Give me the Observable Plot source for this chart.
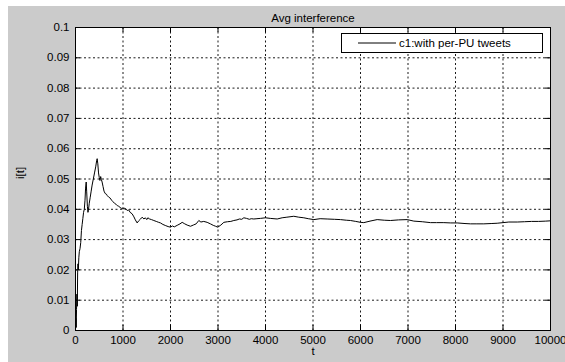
<!DOCTYPE html>
<html>
<head>
<meta charset="utf-8">
<script src="https://cdn.jsdelivr.net/npm/d3@7"></script>
<script src="https://cdn.jsdelivr.net/npm/@observablehq/plot@0.6"></script>
<style>
  html, body { margin: 0; padding: 0; background: #ffffff; }
  #wrap { position: relative; width: 565px; height: 362px; overflow: hidden; font-family: "Liberation Sans", Arial, sans-serif; }
  #bg { position: absolute; left: 8px; top: 6px; right: 0; bottom: 0; background: #cbcbcb; }
  #chart { position: absolute; left: 0; top: 0; }
  #legend { position: absolute; left: 341px; top: 33px; width: 200px; height: 18px; background: #fff; border: 1px solid #000;
            font-size: 11.5px; display: flex; align-items: center; }
  #legend svg { margin-left: 16px; margin-right: 3px; }
</style>
</head>
<body>
<div id="wrap"><div id="bg"></div><div id="chart"></div>
<div id="legend"><svg width="38" height="4"><line x1="0" x2="38" y1="2" y2="2" stroke="#000" stroke-width="1"/></svg><span>c1:with per-PU tweets</span></div>
</div>
<script>
const title = "Avg interference";
const xLabel = "t";
const yLabel = "i[t]";
const seriesName = "c1:with per-PU tweets";
const xTicks = [0, 1000, 2000, 3000, 4000, 5000, 6000, 7000, 8000, 9000, 10000];
const yTicks = [0, 0.01, 0.02, 0.03, 0.04, 0.05, 0.06, 0.07, 0.08, 0.09, 0.1];

const tValues = [0,8,15,22,30,38,45,52,60,70,80,95,110,125,140,155,170,185,200,212,225,235,250,262,270,290,310,330,350,375,400,425,445,456,470,485,500,515,530,545,560,580,600,625,650,670,700,730,760,790,820,850,880,910,940,970,1000,
 1040,1088,1120,1150,1193,1230,1260,1298,1330,1370,1404,1440,1470,1500,1523,1560,1600,1649,1700,1750,1789,1840,1900,1950,2000,2040,2080,2140,2200,2246,2300,2350,2421,2480,2540,2596,2640,2700,2772,2840,2900,2950,2996,3060,3123,3200,3270,3333,3400,3450,3500,3544,3600,3660,3700,3754,3820,3895,4000,
 4100,4246,4350,4450,4596,4700,4807,4900,5018,5150,5298,5450,5579,5700,5789,5900,6000,6070,6200,6351,6500,6632,6800,6982,7123,7300,7474,7600,7754,7900,8035,8200,8316,8450,8596,8750,8877,9000,9123,9300,9450,9600,9750,9900,10000];
const iValues = [0,0.004,0.001,0.007,0.012,0.008,0.019,0.022,0.020,0.024,0.026,0.027,0.029,0.033,0.035,0.037,0.039,0.040,0.043,0.047,0.049,0.046,0.041,0.039,0.0395,0.042,0.044,0.046,0.048,0.050,0.052,0.054,0.056,0.0567,0.055,0.052,0.0505,0.0495,0.0508,0.0498,0.049,0.0475,0.046,0.0452,0.045,0.0445,0.044,0.0437,0.043,0.0425,0.042,0.0417,0.0412,0.041,0.0406,0.0403,0.0401,
 0.0404,0.0396,0.0398,0.039,0.0385,0.0375,0.0365,0.0355,0.0362,0.0368,0.0374,0.0368,0.0372,0.0366,0.0372,0.0368,0.0366,0.0363,0.036,0.0357,0.0355,0.035,0.0346,0.0343,0.0341,0.0345,0.0342,0.0347,0.0352,0.0357,0.0352,0.0348,0.0344,0.0348,0.0352,0.0363,0.0358,0.036,0.0357,0.0352,0.0347,0.0344,0.0341,0.0348,0.0357,0.0359,0.036,0.0363,0.0365,0.0368,0.0367,0.0372,0.037,0.0367,0.0369,0.0368,0.0369,0.037,0.0372,
 0.037,0.0368,0.0372,0.0374,0.0377,0.0374,0.0372,0.0369,0.0366,0.0369,0.0368,0.0367,0.0366,0.0364,0.0363,0.036,0.0357,0.0356,0.0361,0.0366,0.0364,0.0363,0.0365,0.0366,0.0361,0.0359,0.0356,0.0356,0.0356,0.0355,0.0355,0.0353,0.0352,0.0352,0.0352,0.0353,0.0354,0.0356,0.0358,0.0358,0.0359,0.036,0.036,0.0361,0.0362];

const data = tValues.map((t, k) => ({t, i: iValues[k]}));
const fmtY = d => String(Number(d.toFixed(2)));
const fmtX = d => String(d);
const marginTop = 27, marginBottom = 32, marginLeft = 75, marginRight = 15;
const H = 362, W = 565;
const fh = H - marginTop - marginBottom, fw = W - marginLeft - marginRight;
const tick = 5;
const font = "Liberation Sans, Arial, sans-serif";

const plot = Plot.plot({
  width: W, height: H,
  marginTop, marginBottom, marginLeft, marginRight,
  style: {background: "transparent", fontFamily: font, fontSize: "11px", color: "#000", overflow: "visible"},
  x: {domain: [0, 10000], ticks: xTicks, label: null},
  y: {domain: [0, 0.1], ticks: yTicks, label: null},
  marks: [
    Plot.frame({fill: "white", stroke: null}),
    Plot.gridX(xTicks, {stroke: "#000", strokeOpacity: 0.9, strokeDasharray: "2,2.5"}),
    Plot.gridY(yTicks, {stroke: "#000", strokeOpacity: 0.9, strokeDasharray: "2,2.5"}),
    Plot.tickX(xTicks, {x: d => d, insetTop: fh - tick, stroke: "#000"}),
    Plot.tickX(xTicks, {x: d => d, insetBottom: fh - tick, stroke: "#000"}),
    Plot.tickY(yTicks, {y: d => d, insetRight: fw - tick, stroke: "#000"}),
    Plot.tickY(yTicks, {y: d => d, insetLeft: fw - tick, stroke: "#000"}),
    Plot.line(data, {x: "t", y: "i", stroke: "#000", strokeWidth: 1}),
    Plot.frame({stroke: "#000"}),
    Plot.axisX(xTicks, {tickSize: 0, tickPadding: 5, label: null, tickFormat: fmtX, fontSize: 11.5}),
    Plot.axisY(yTicks, {tickSize: 0, tickPadding: 6, label: null, tickFormat: fmtY, fontSize: 11.5}),
    Plot.text([title], {frameAnchor: "top", dy: -14, fontSize: 11.5, text: d => d}),
    Plot.text([xLabel], {frameAnchor: "bottom", dy: 24, fontSize: 11.5, text: d => d}),
    Plot.text([yLabel], {frameAnchor: "left", dx: -55, rotate: -90, fontSize: 11.5, text: d => d})
  ]
});
document.getElementById("chart").appendChild(plot);
document.querySelector("#legend span").textContent = seriesName;
</script>
</body>
</html>
